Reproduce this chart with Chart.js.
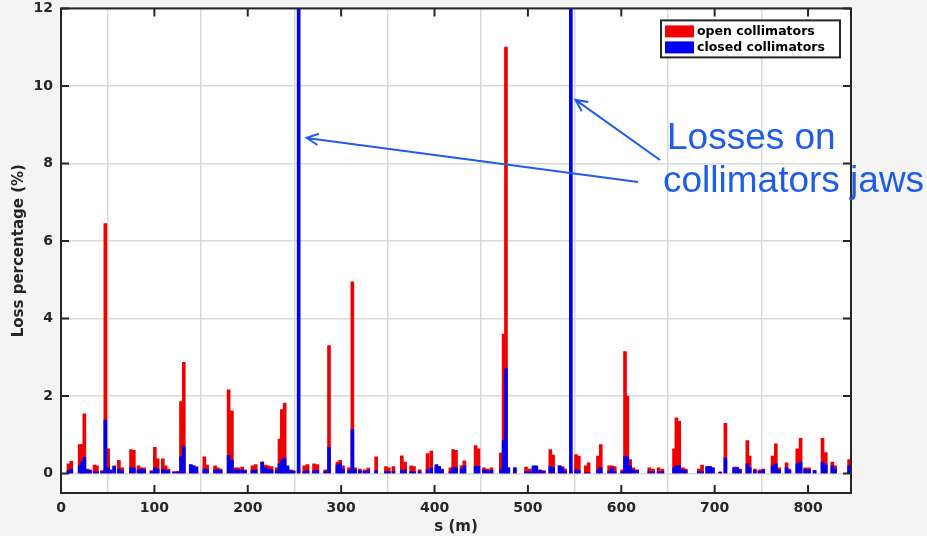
<!DOCTYPE html>
<html>
<head>
<meta charset="utf-8">
<script src="https://cdn.jsdelivr.net/npm/chart.js@4.4.1/dist/chart.umd.min.js"></script>
<style>
  html, body { margin: 0; padding: 0; background: #f4f4f4; overflow: hidden; }
  #wrap { position: relative; width: 927px; height: 536px; overflow: hidden; }
  #losses { position: absolute; left: 0; top: -8px; }
</style>
</head>
<body>
<div id="wrap"><canvas id="losses" width="927" height="544"></canvas></div>
<script>
// position along the line (m) and loss per bin (%)
const sPos = [
  8, 11, 20, 22.5, 25, 28, 31, 36, 38.5, 44, 47.5, 50.5, 53, 57, 62, 65.5, 75, 78, 83, 86, 89, 97,
  100.5, 103.5, 109, 112, 115, 121, 125, 128.5, 131.5, 139, 142, 145, 153.5, 156.5, 165, 168,
  171, 179.5, 183, 187, 190, 194, 197, 205, 208.5, 215.5, 219, 222, 225.5, 231, 234, 236.5, 239.5,
  242.5, 246, 249, 254.5, 260.5, 264, 271, 274.5, 283, 287, 296, 299, 302, 308.5, 312, 315, 320,
  325, 329, 337.5, 348, 351, 356, 365, 368.5, 375, 378, 384, 392.5, 396.5, 402, 405, 408, 417,
  420, 423, 429, 432, 444, 447, 453, 457, 461, 471, 474, 476.5, 479, 486, 498, 502, 506, 509,
  513, 517, 524, 527, 534, 537, 540, 546, 551.5, 554.5, 562, 565, 575, 578, 587, 590, 593, 601,
  604, 606.5, 609.5, 613, 617, 630, 634, 640, 644, 656.5, 659, 662, 666, 669, 683, 686.5, 692,
  695, 698, 706, 711.5, 721, 724, 727, 735, 737.5, 743, 748, 752, 762, 765.5, 769, 777, 780,
  788.5, 792, 797, 801, 807, 815.5, 819, 826, 829, 844
];
const openLoss = [
  0.25, 0.32, 0.75, 0.75, 1.54, 0.12, 0.1, 0.22, 0.2, 0.08, 6.45, 0.64, 0.1, 0.2, 0.34, 0.15, 0.62, 0.6, 0.2, 0.15, 0.15, 0.08,
  0.68, 0.38, 0.38, 0.2, 0.12, 0.05, 0.06, 1.86, 2.87, 0.22, 0.2, 0.18, 0.43, 0.22, 0.2, 0.15,
  0.12, 2.16, 1.62, 0.15, 0.15, 0.17, 0.1, 0.2, 0.23, 0.3, 0.22, 0.2, 0.18, 0.15, 0.89, 1.65, 1.82,
  0.15, 0.1, 0.08, 0.1, 0.2, 0.23, 0.25, 0.23, 0.1, 3.3, 0.3, 0.34, 0.2, 0.15, 4.95, 0.15, 0.12,
  0.1, 0.14, 0.43, 0.18, 0.15, 0.18, 0.46, 0.3, 0.2, 0.18, 0.1, 0.52, 0.58, 0.2, 0.18, 0.12, 0.15,
  0.62, 0.6, 0.2, 0.33, 0.72, 0.64, 0.15, 0.12, 0.15, 0.53, 3.6, 11.0, 0.15, 0.15, 0.17, 0.12, 0.15, 0.1,
  0.1, 0.08, 0.62, 0.48, 0.2, 0.18, 0.12, 0.05, 0.49, 0.45, 0.2, 0.28, 0.45, 0.75, 0.2, 0.2, 0.18, 0.1,
  3.15, 2.0, 0.36, 0.15, 0.1, 0.15, 0.12, 0.15, 0.12, 0.64, 1.44, 1.35, 0.15, 0.12, 0.12, 0.22, 0.18,
  0.18, 0.15, 0.04, 1.3, 0.17, 0.17, 0.12, 0.85, 0.45, 0.12, 0.1, 0.12, 0.45, 0.77, 0.15, 0.28, 0.12,
  0.64, 0.91, 0.15, 0.15, 0.08, 0.91, 0.54, 0.3, 0.2, 0.36
];
const closedLoss = [
  0.08, 0.12, 0.2, 0.3, 0.42, 0.1, 0.08, 0.05, 0.05, 0.05, 1.38, 0.15, 0.08, 0.18, 0.12, 0.08, 0.15, 0.15, 0.1, 0.12, 0.1, 0.05,
  0.15, 0.12, 0.12, 0.08, 0.08, 0.04, 0.04, 0.43, 0.7, 0.23, 0.2, 0.15, 0.12, 0.1, 0.1, 0.1,
  0.08, 0.47, 0.35, 0.1, 0.1, 0.1, 0.08, 0.08, 0.1, 0.3, 0.15, 0.12, 0.1, 0.08, 0.25, 0.35, 0.4,
  0.2, 0.08, 0.06, 15, 0.05, 0.08, 0.08, 0.08, 0.05, 0.68, 0.22, 0.25, 0.12, 0.08, 1.13, 0.1, 0.08,
  0.06, 0.08, 0.08, 0.05, 0.05, 0.06, 0.08, 0.1, 0.05, 0.05, 0.05, 0.1, 0.15, 0.23, 0.18, 0.1, 0.05,
  0.15, 0.15, 0.12, 0.2, 0.19, 0.19, 0.1, 0.08, 0.08, 0.1, 0.85, 2.7, 0.15, 0.15, 0.05, 0.05, 0.2, 0.2,
  0.08, 0.06, 0.19, 0.15, 0.2, 0.15, 0.05, 15, 0.1, 0.08, 0.02, 0.02, 0.1, 0.15, 0.05, 0.15, 0.05, 0.05,
  0.43, 0.43, 0.2, 0.1, 0.08, 0.05, 0.05, 0.05, 0.05, 0.15, 0.2, 0.2, 0.1, 0.08, 0.05, 0.05, 0.18,
  0.18, 0.15, 0.04, 0.4, 0.15, 0.15, 0.1, 0.25, 0.15, 0.08, 0.05, 0.1, 0.2, 0.25, 0.1, 0.15, 0.08,
  0.25, 0.3, 0.12, 0.1, 0.08, 0.3, 0.22, 0.2, 0.12, 0.2
];
const xTicks = [0, 100, 200, 300, 400, 500, 600, 700, 800];
const yTicks = [0, 2, 4, 6, 8, 10, 12];
const seriesNames = ["open collimators", "closed collimators"];
const seriesColors = ["#f00000", "#0000f0"];
const noteLines = ["Losses on", "collimators jaws"];
// arrow tips, in data units (s, loss)
const arrowTips = [[263, 8.66], [551, 9.64]];

const dark = "#262626";
const shift = 8; // canvas sits 8px above the page top
const tickFont = { family: "DejaVu Sans", weight: "bold", size: 14 };

function pts(vals) {
  return sPos.map(function (s, i) { return { x: s, y: vals[i] }; });
}

function arrow(ctx, x0, y0, x1, y1) {
  const ang = Math.atan2(y1 - y0, x1 - x0);
  const len = 13;
  ctx.beginPath();
  ctx.moveTo(x0, y0);
  ctx.lineTo(x1, y1);
  ctx.moveTo(x1 - len * Math.cos(ang - 0.45), y1 - len * Math.sin(ang - 0.45));
  ctx.lineTo(x1, y1);
  ctx.lineTo(x1 - len * Math.cos(ang + 0.45), y1 - len * Math.sin(ang + 0.45));
  ctx.stroke();
}

const frame = {
  id: "frame",
  beforeDraw(chart) {
    const { ctx, chartArea: a } = chart;
    ctx.save();
    ctx.fillStyle = "#ffffff";
    ctx.fillRect(a.left, a.top, a.right - a.left, a.bottom - a.top);
    ctx.restore();
  },
  afterDraw(chart) {
    const { ctx, chartArea: a, scales } = chart;
    ctx.save();
    // box and inward ticks
    ctx.strokeStyle = dark;
    ctx.lineWidth = 2;
    ctx.strokeRect(a.left, a.top, a.right - a.left, a.bottom - a.top);
    ctx.beginPath();
    yTicks.forEach(function (v) {
      const y = scales.y.getPixelForValue(v);
      ctx.moveTo(a.left, y); ctx.lineTo(a.left + 8, y);
      ctx.moveTo(a.right, y); ctx.lineTo(a.right - 8, y);
    });
    xTicks.forEach(function (v) {
      const x = scales.x.getPixelForValue(v);
      ctx.moveTo(x, a.bottom); ctx.lineTo(x, a.bottom - 8);
      ctx.moveTo(x, a.top); ctx.lineTo(x, a.top + 8);
    });
    ctx.stroke();

    // legend box
    const lw = 179, lh = 37;
    const lx = a.right - 11 - lw, ly = a.top + 12;
    ctx.fillStyle = "#ffffff";
    ctx.fillRect(lx, ly, lw, lh);
    ctx.strokeRect(lx, ly, lw, lh);
    ctx.font = "bold 12.5px 'DejaVu Sans'";
    ctx.textBaseline = "middle";
    seriesNames.forEach(function (name, i) {
      const cy = ly + 11 + i * 16;
      ctx.fillStyle = seriesColors[i];
      ctx.fillRect(lx + 4, cy - 6, 29, 12);
      ctx.fillStyle = "#000";
      ctx.fillText(name, lx + 36, cy);
    });

    // annotation
    const blue = "#1f5ce8";
    ctx.fillStyle = blue;
    ctx.strokeStyle = blue;
    ctx.lineWidth = 2;
    ctx.font = "37px 'Liberation Sans'";
    ctx.textBaseline = "alphabetic";
    ctx.fillText(noteLines[0], 667, 149 + shift);
    ctx.fillText(noteLines[1], 663, 192 + shift);
    const tails = [[638, 182 + shift], [660, 160 + shift]];
    arrowTips.forEach(function (t, i) {
      arrow(ctx, tails[i][0], tails[i][1],
        scales.x.getPixelForValue(t[0]), scales.y.getPixelForValue(t[1]));
    });
    ctx.restore();
  }
};

new Chart(document.getElementById("losses"), {
  type: "bar",
  data: {
    datasets: [
      { label: seriesNames[1], data: pts(closedLoss), backgroundColor: seriesColors[1] },
      { label: seriesNames[0], data: pts(openLoss), backgroundColor: seriesColors[0] }
    ]
  },
  options: {
    responsive: false,
    devicePixelRatio: 1,
    animation: false,
    layout: { padding: { top: 1, right: 76, left: 0, bottom: 0 } },
    datasets: { bar: { barThickness: 3, grouped: false, borderWidth: 0 } },
    plugins: { legend: { display: false }, tooltip: { enabled: false } },
    scales: {
      x: {
        type: "linear",
        min: 0,
        max: 846,
        offset: false,
        afterBuildTicks(s) { s.ticks = xTicks.map(function (v) { return { value: v }; }); },
        afterFit(s) { s.height = 43; },
        ticks: { color: dark, font: tickFont, padding: 7, maxRotation: 0 },
        grid: { color: "#d9d9d9", lineWidth: 1.5, drawTicks: false },
        border: { display: false },
        title: { display: true, text: "s (m)", color: dark, font: { family: "DejaVu Sans", weight: "bold", size: 15 }, padding: { top: 0, bottom: 0 } }
      },
      y: {
        min: -0.5,
        max: 12,
        afterBuildTicks(s) { s.ticks = yTicks.map(function (v) { return { value: v }; }); },
        afterFit(s) { s.width = 61; },
        ticks: { color: dark, font: tickFont, padding: 8 },
        grid: { color: "#d9d9d9", lineWidth: 1.5, drawTicks: false },
        border: { display: false },
        title: { display: true, text: "Loss percentage (%)", color: dark, font: { family: "DejaVu Sans", weight: "bold", size: 15 }, padding: { bottom: 0, top: 10 } }
      }
    }
  },
  plugins: [frame]
});
</script>
</body>
</html>
